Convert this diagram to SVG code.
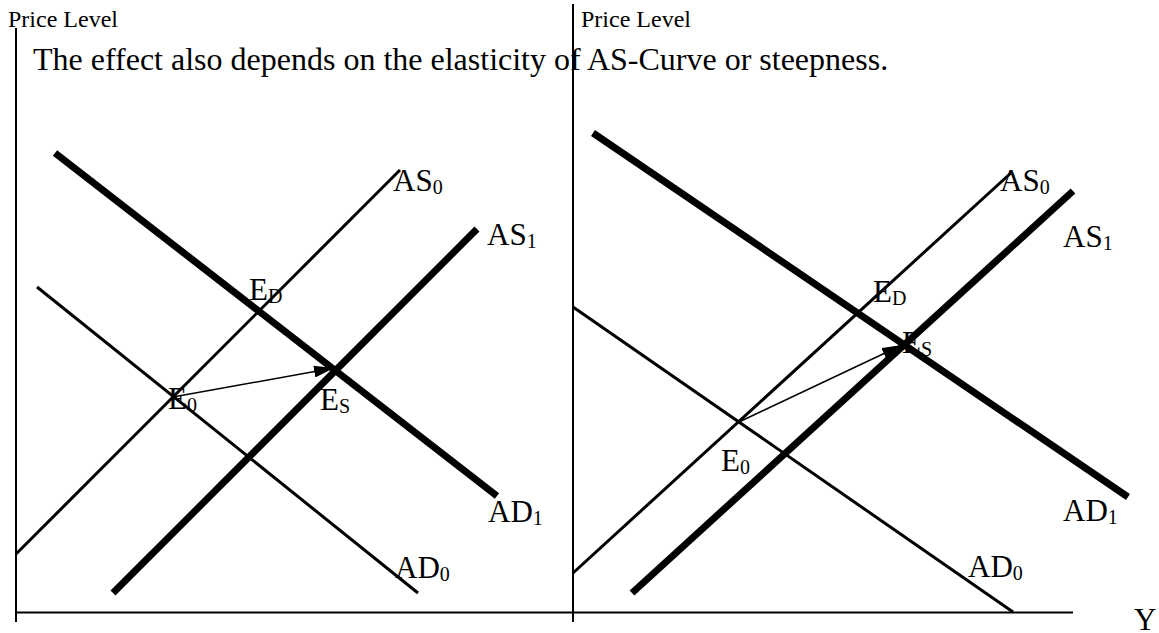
<svg xmlns="http://www.w3.org/2000/svg" width="1159" height="633" viewBox="0 0 1159 633">
<defs>
<style>
text{font-family:"Liberation Serif","Times New Roman",serif;fill:#000}
.ax{stroke:#000;stroke-width:2;fill:none}
.thin{stroke:#000;stroke-width:3;fill:none}
.thick{stroke:#000;stroke-width:7;fill:none}
.arr{stroke:#000;stroke-width:1.5;fill:none}
.lbl{font-size:31px}
.sub{font-size:20px}
.axl{font-size:24px}
</style>
<marker id="ah" markerUnits="userSpaceOnUse" markerWidth="22" markerHeight="12" refX="20" refY="6" orient="auto">
<path d="M0,0 L20,6 L0,12 Z" fill="#000"/>
</marker>
</defs>
<rect width="1159" height="633" fill="#fff"/>
<g id="axes">
<line class="ax" x1="16" y1="28" x2="16" y2="622"/>
<line class="ax" x1="573" y1="4" x2="573" y2="622"/>
<line class="ax" x1="16" y1="612.5" x2="1073" y2="612.5"/>
<text class="axl" x="8" y="27">Price Level</text>
<text class="axl" x="581" y="27">Price Level</text>
<text class="lbl" x="1134" y="630">Y</text>
</g>
<text id="caption" x="33" y="70" font-family="'Liberation Serif', 'Times New Roman', serif" font-size="32">The effect also depends on the elasticity of AS-Curve or steepness.</text>
<g id="left-curves">
<line class="thick" x1="55" y1="153" x2="497" y2="496"/>
<line class="thin" x1="16" y1="554" x2="400" y2="170"/>
<line class="thick" x1="113" y1="593" x2="477" y2="229"/>
<line class="thin" x1="37" y1="287" x2="418" y2="593"/>
</g>
<g id="right-curves">
<line class="thick" x1="593" y1="133" x2="1128" y2="497"/>
<line class="thin" x1="573" y1="573" x2="1012" y2="172"/>
<line class="thick" x1="632" y1="593" x2="1073" y2="191"/>
<line class="thin" x1="573" y1="307" x2="1013" y2="612"/>
</g>
<g id="connectors">
<line class="arr" x1="173" y1="397" x2="334" y2="368" marker-end="url(#ah)"/>
<line class="arr" x1="739" y1="422" x2="902" y2="345" marker-end="url(#ah)"/>
</g>
<g id="left-labels">
<text class="lbl" x="393" y="191">AS<tspan class="sub" dy="3">0</tspan></text>
<text class="lbl" x="487" y="245">AS<tspan class="sub" dy="3">1</tspan></text>
<text class="lbl" x="249" y="300">E<tspan class="sub" dy="3">D</tspan></text>
<text class="lbl" x="168" y="409">E<tspan class="sub" dy="3">0</tspan></text>
<text class="lbl" x="320" y="410">E<tspan class="sub" dy="3">S</tspan></text>
<text class="lbl" x="488" y="522">AD<tspan class="sub" dy="3">1</tspan></text>
<text class="lbl" x="395" y="578">AD<tspan class="sub" dy="3">0</tspan></text>
</g>
<g id="right-labels">
<text class="lbl" x="1000" y="191">AS<tspan class="sub" dy="3">0</tspan></text>
<text class="lbl" x="1063" y="247">AS<tspan class="sub" dy="3">1</tspan></text>
<text class="lbl" x="873" y="302">E<tspan class="sub" dy="3">D</tspan></text>
<text class="lbl" x="902" y="353">E<tspan class="sub" dy="3">S</tspan></text>
<text class="lbl" x="721" y="471">E<tspan class="sub" dy="3">0</tspan></text>
<text class="lbl" x="1063" y="521">AD<tspan class="sub" dy="3">1</tspan></text>
<text class="lbl" x="968" y="577">AD<tspan class="sub" dy="3">0</tspan></text>
</g>
</svg>
